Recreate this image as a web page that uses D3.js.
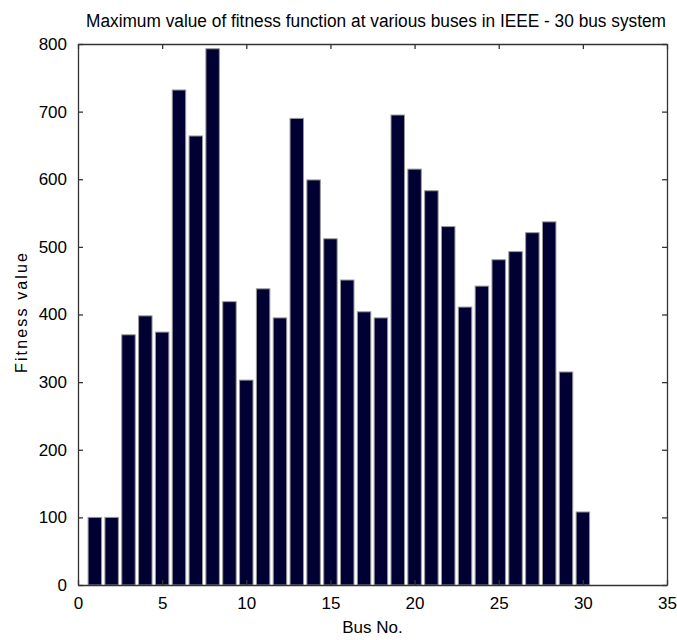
<!DOCTYPE html>
<html>
<head>
<meta charset="utf-8">
<script src="https://cdn.jsdelivr.net/npm/d3@7"></script>
<style>
  body { margin: 0; background: #fff; }
  svg text { font-family: "Liberation Sans Narrow", "Arial Narrow", "Liberation Sans", sans-serif; }
</style>
</head>
<body>
<svg width="677" height="640"></svg>
<script>
var buses = d3.range(1, 31);
var fitness = [100, 100, 370, 398, 374, 732, 664, 793, 419, 303,
               438, 395, 690, 599, 512, 451, 404, 395, 695, 615,
               583, 530, 411, 442, 481, 493, 521, 537, 315, 108];
var xTicks = [0, 5, 10, 15, 20, 25, 30, 35];
var yTicks = [0, 100, 200, 300, 400, 500, 600, 700, 800];

var svg = d3.select("svg"),
    mLeft = 78, mRight = 667, mTop = 44, mBottom = 585;

var x = d3.scaleLinear().domain([0, 35]).range([mLeft, mRight]);
var y = d3.scaleLinear().domain([0, 800]).range([mBottom, mTop]);

// bars (matlab default width 0.8)
svg.append("g")
  .selectAll("rect")
  .data(buses)
  .enter().append("rect")
    .attr("x", function(d) { return x(d - 0.4); })
    .attr("y", function(d, i) { return y(fitness[i]); })
    .attr("width", x(0.8) - x(0))
    .attr("height", function(d, i) { return y(0) - y(fitness[i]); })
    .attr("fill", "#000033")
    .attr("stroke", "#9a9a9a")
    .attr("stroke-width", 1);

// axes with inward ticks, box around
svg.append("g")
    .attr("transform", "translate(0," + mBottom + ")")
    .call(d3.axisBottom(x).tickValues(xTicks).tickSizeInner(-5).tickSizeOuter(0).tickPadding(12))
    .call(function(g) { g.selectAll("text").attr("font-size", 17).attr("fill", "#000"); });

svg.append("g")
    .attr("transform", "translate(0," + mTop + ")")
    .call(d3.axisTop(x).tickValues(xTicks).tickSizeInner(-5).tickSizeOuter(0))
    .call(function(g) { g.selectAll("text").remove(); });

svg.append("g")
    .attr("transform", "translate(" + mLeft + ",0)")
    .call(d3.axisLeft(y).tickValues(yTicks).tickSizeInner(-5).tickSizeOuter(0).tickPadding(11))
    .call(function(g) { g.selectAll("text").attr("font-size", 17).attr("fill", "#000"); });

svg.append("g")
    .attr("transform", "translate(" + mRight + ",0)")
    .call(d3.axisRight(y).tickValues(yTicks).tickSizeInner(-5).tickSizeOuter(0))
    .call(function(g) { g.selectAll("text").remove(); });

svg.selectAll(".domain").attr("stroke", "#333").attr("stroke-width", 1.3);
svg.selectAll(".tick line").attr("stroke", "#333").attr("stroke-width", 1.3);

svg.append("text")
    .attr("x", 376)
    .attr("y", 27)
    .attr("text-anchor", "middle")
    .attr("font-size", 18)
    .attr("textLength", 580)
    .attr("lengthAdjust", "spacingAndGlyphs")
    .text("Maximum value of fitness function at various buses in IEEE - 30 bus system");

svg.append("text")
    .attr("x", (mLeft + mRight) / 2)
    .attr("y", 633)
    .attr("text-anchor", "middle")
    .attr("font-size", 17)
    .text("Bus No.");

svg.append("text")
    .attr("transform", "translate(27,313) rotate(-90)")
    .attr("text-anchor", "middle")
    .style("font-family", "'Liberation Sans', Arial, sans-serif")
    .attr("font-size", 16)
    .attr("textLength", 120)
    .attr("lengthAdjust", "spacing")
    .text("Fitness value");
</script>
</body>
</html>
